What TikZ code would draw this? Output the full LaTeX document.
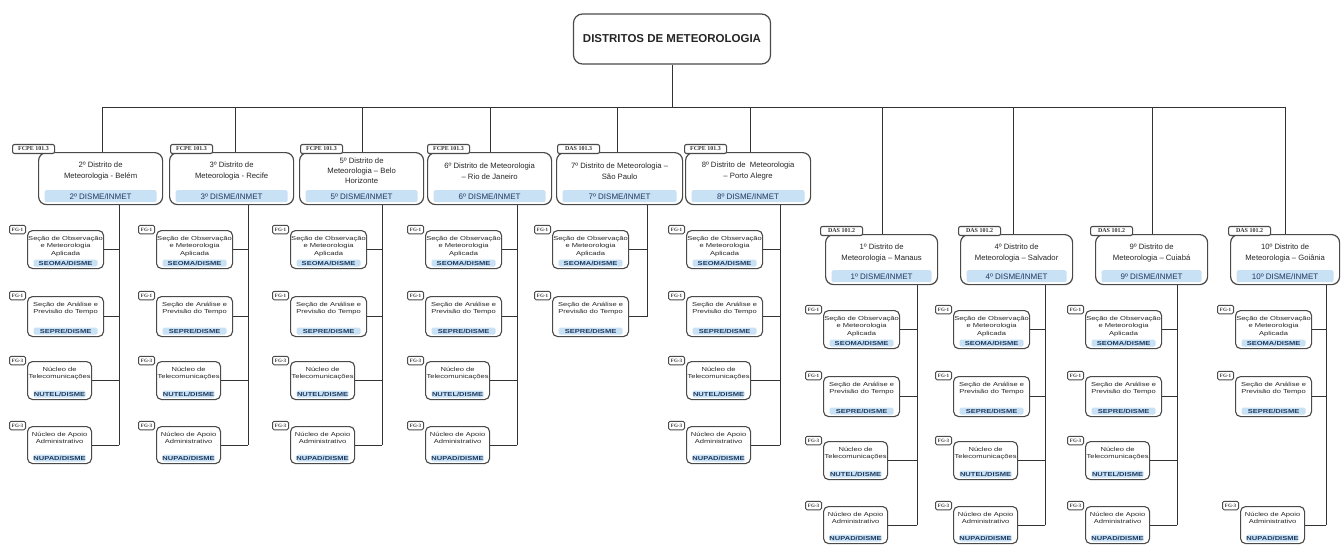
\documentclass[tikz,border=0pt]{standalone}
\usepackage{fontspec}
\setmainfont{Liberation Sans}
\newfontfamily\cfont[FakeStretch=1.3]{Liberation Sans}
\newfontfamily\tfont{Liberation Serif}
\definecolor{edge}{HTML}{4A4A4A}
\definecolor{wire}{HTML}{333333}
\definecolor{barblue}{HTML}{C9E1F5}
\definecolor{bartext}{HTML}{1F3A5F}
\tikzset{
 conn/.style={draw=wire, line width=1pt},
 topbox/.style={draw=edge, line width=1.2pt, rounded corners=9pt, fill=white, minimum width=197, minimum height=50, font=\fontsize{11.5}{13}\selectfont\bfseries, text=black!85},
 dbox/.style={draw=edge, line width=1.2pt, rounded corners=8pt, fill=white},
 dtitle/.style={font=\fontsize{7.7}{11.5}\selectfont, align=center, inner sep=0pt, text=black!85},
 dbar/.style={fill=barblue, rounded corners=2pt, minimum height=12, inner sep=0pt, font=\fontsize{8}{8}\selectfont, text=bartext},
 dtag/.style={draw=edge, line width=1.1pt, rounded corners=2pt, fill=white, minimum width=42, minimum height=9, inner sep=0pt, font=\tfont\bfseries\fontsize{6}{6}\selectfont, text=black!80},
 cbox/.style={draw=edge, line width=1.1pt, rounded corners=5pt, fill=white},
 ctext/.style={font=\cfont\fontsize{5.8}{7.5}\selectfont, align=center, inner sep=0pt, text=black!85},
 cbar/.style={fill=barblue, rounded corners=1.5pt, minimum height=7, inner sep=0pt, font=\cfont\bfseries\fontsize{5.8}{5.8}\selectfont, text=bartext},
 ctag/.style={draw=edge, line width=1pt, rounded corners=1.5pt, fill=white, minimum width=16, minimum height=8.5, inner sep=0pt, font=\tfont\bfseries\fontsize{5}{5}\selectfont, text=black!80},
}
\newcommand\Dist[9]{%
 \node[dbox, minimum width=#4, minimum height=#5, anchor=north west] (#1) at (#2,#3) {};
 \node[dtitle, anchor=center] (#1t) at ([yshift=-19pt]#1.north) {#7};
 \node[dbar, minimum width=#4-12] (#1b) at ([yshift=9pt]#1.south) {#8};
 \node[dtag, anchor=west] (#1g) at (#9,#3-3) {#6};
}
\newcommand\Child[8]{%
 \node[cbox, minimum width=#4, minimum height=#5, anchor=north west] (#1) at (#2,#3) {};
 \node[ctext, anchor=north] (#1t) at ([yshift=-6pt]#1.north) {#6};
 \node[cbar, minimum width=#4-12] (#1b) at ([yshift=6pt]#1.south) {#7};
 \node[ctag, anchor=east] (#1g) at ([xshift=-1pt,yshift=0.5pt]#1.north west) {#8};
}
\newcommand\ChildObs[3]{\Child{#1}{#2}{#3}{76}{38}{Seção de Observação\\e Meteorologia\\Aplicada}{SEOMA/DISME}{FG-1}}
\newcommand\ChildAna[3]{\Child{#1}{#2}{#3}{76}{40}{Seção de Análise e\\Previsão do Tempo}{SEPRE/DISME}{FG-1}}
\newcommand\ChildTel[3]{\Child{#1}{#2}{#3}{64}{38}{Núcleo de\\Telecomunicações}{NUTEL/DISME}{FG-3}}
\newcommand\ChildApo[3]{\Child{#1}{#2}{#3}{64}{37}{Núcleo de Apoio\\Administrativo}{NUPAD/DISME}{FG-3}}
\newcommand\Four[3]{%
 \ChildObs{#1a}{#2}{#3}
 \ChildAna{#1b}{#2}{#3+66}
 \ChildTel{#1c}{#2}{#3+131}
 \ChildApo{#1d}{#2}{#3+196}
}
\newcommand\Wire[4]{%
 \coordinate (#1T) at (#2,107);
 \coordinate (#1L) at (#3,0);
 \draw[conn] (#1T) -- (#1T |- #1.north);
 \draw[conn] (#1L |- #1.south) -- (#1L |- #1#4.east);
}
\newcommand\Link[2]{\draw[conn] (#1.east) -- (#1.east -| #2L);}
\begin{document}
\begin{tikzpicture}[x=1pt,y=-1pt]
\fill[white] (0,0) rectangle (1341,544);
\useasboundingbox (0,0) rectangle (1341,544);

\node[topbox] (top) at (672,39) {DISTRITOS DE METEOROLOGIA};

% top row
\Dist{D2}{38}{152}{124}{52}{FCPE 101.3}{2º Distrito de\\Meteorologia - Belém}{2º DISME/INMET}{12}
\Dist{D3}{169}{152}{124}{52}{FCPE 101.3}{3º Distrito de\\Meteorologia - Recife}{3º DISME/INMET}{170}
\begin{scope}[dtitle/.append style={font=\fontsize{7.7}{10}\selectfont}]
\Dist{D5}{299}{152}{124}{52}{FCPE 101.3}{5º Distrito de\\Meteorologia – Belo\\Horizonte}{5º DISME/INMET}{300}
\end{scope}
\Dist{D6}{427}{152}{124}{52}{FCPE 101.3}{6º Distrito de Meteorologia\\– Rio de Janeiro}{6º DISME/INMET}{427}
\Dist{D7}{556}{152}{126}{52}{DAS 101.3}{7º Distrito de Meteorologia –\\São Paulo}{7º DISME/INMET}{557}
\Dist{D8}{685}{152}{125}{52}{FCPE 101.3}{8º Distrito de~ Meteorologia\\– Porto Alegre}{8º DISME/INMET}{684}

% second row
\begin{scope}[dtitle/.append style={font=\fontsize{7.7}{10.5}\selectfont}]
\Dist{D1}{825}{234}{112}{50}{DAS 101.2}{1º Distrito de\\Meteorologia – Manaus}{1º DISME/INMET}{820}
\Dist{D4}{960}{234}{112}{50}{DAS 101.2}{4º Distrito de\\Meteorologia – Salvador}{4º DISME/INMET}{958}
\Dist{D9}{1095}{234}{112}{50}{DAS 101.2}{9º Distrito de\\Meteorologia – Cuiabá}{9º DISME/INMET}{1090}
\Dist{D10}{1230}{234}{109}{50}{DAS 101.2}{10º Distrito de\\Meteorologia – Goiânia}{10º DISME/INMET}{1228}
\end{scope}

% children
\Four{D2}{27}{230}
\Four{D3}{156}{230}
\Four{D5}{290}{230}
\Four{D6}{425}{230}
\ChildObs{D7a}{552}{230}
\ChildAna{D7b}{552}{296}
\Four{D8}{686}{230}
\Four{D1}{823}{310}
\Four{D4}{953}{310}
\Four{D9}{1085}{310}
\ChildObs{D10a}{1235}{310}
\ChildAna{D10b}{1235}{376}
\ChildApo{D10d}{1240}{506}

% wiring
\Wire{D2}{102}{119}{d}
\Wire{D3}{235}{248}{d}
\Wire{D5}{362}{382}{d}
\Wire{D6}{490}{517}{d}
\Wire{D7}{617}{647}{b}
\Wire{D8}{750}{780}{d}
\Wire{D1}{882}{917}{d}
\Wire{D4}{1013}{1045}{d}
\Wire{D9}{1152}{1177}{d}
\Wire{D10}{1285}{1326}{d}
\draw[conn] (D2T) -- (D10T);
\draw[conn] (top.south) -- (top.south |- D2T);

\foreach \dd in {D2,D3,D5,D6,D8,D1,D4,D9}{
 \foreach \ch in {a,b,c,d}{\Link{\dd\ch}{\dd}}
}
\Link{D7a}{D7}
\Link{D7b}{D7}
\Link{D10a}{D10}
\Link{D10b}{D10}
\Link{D10d}{D10}
\end{tikzpicture}
\end{document}
